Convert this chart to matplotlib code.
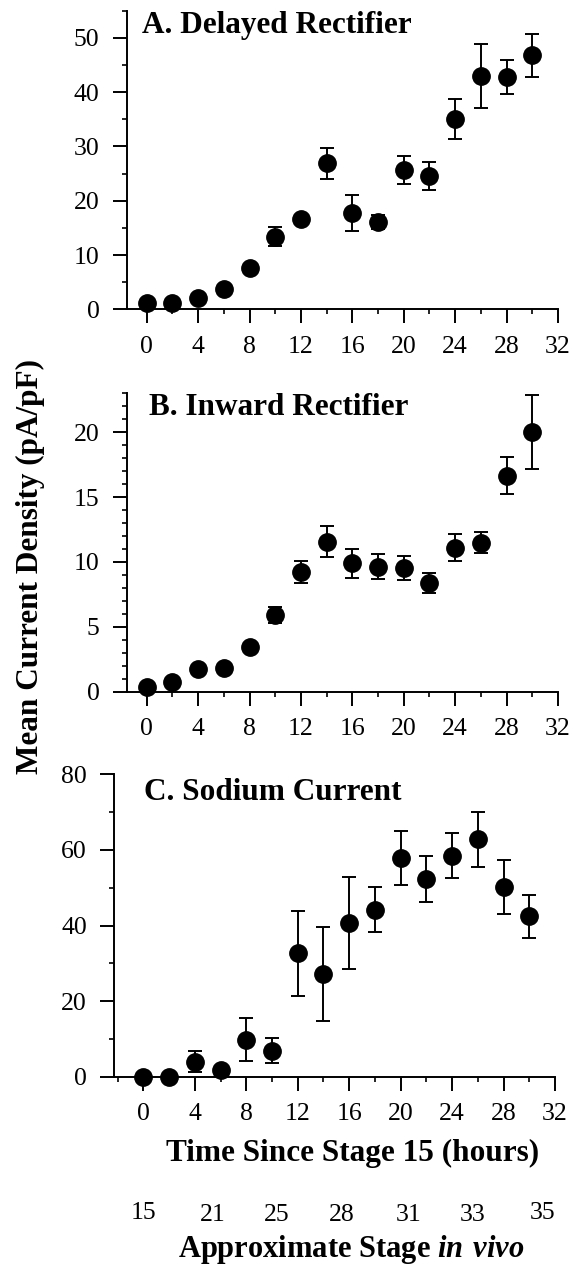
import matplotlib
matplotlib.use('Agg')
import matplotlib.pyplot as plt
from matplotlib.ticker import MultipleLocator

plt.rcParams['font.family'] = ['Liberation Serif', 'DejaVu Serif']
plt.rcParams['mathtext.fontset'] = 'custom'
plt.rcParams['mathtext.bfit'] = 'Liberation Serif:italic:bold'
plt.rcParams['mathtext.rm'] = 'Liberation Serif:bold'

# hours since stage 15
hours = [0, 2, 4, 6, 8, 10, 12, 14, 16, 18, 20, 22, 24, 26, 28, 30]

# A. delayed rectifier
delayed_mean = [1.1, 1.2, 2.0, 3.8, 7.6, 13.4, 16.6, 26.9, 17.7, 16.1, 25.6, 24.6, 35.0, 43.0, 42.8, 46.8]
delayed_err = [0, 0, 0, 0, 0, 1.8, 0.8, 2.9, 3.3, 1.3, 2.6, 2.6, 3.7, 5.9, 3.1, 4.0]

# B. inward rectifier
inward_mean = [0.33, 0.72, 1.77, 1.85, 3.47, 5.9, 9.25, 11.57, 9.9, 9.64, 9.51, 8.4, 11.1, 11.49, 16.66, 20.0]
inward_err = [0, 0, 0, 0, 0, 0.6, 0.85, 1.2, 1.1, 0.97, 0.93, 0.77, 1.05, 0.8, 1.45, 2.85]

# C. sodium current
sodium_mean = [0, 0, 4.0, 1.9, 9.8, 6.9, 32.6, 27.1, 40.6, 44.2, 57.8, 52.3, 58.5, 62.8, 50.1, 42.4]
sodium_err = [0, 0, 2.7, 0, 5.7, 3.3, 11.3, 12.4, 12.2, 6.0, 7.1, 6.0, 5.9, 7.3, 7.1, 5.7]

# approximate in vivo stages and where they sit on the hours axis
stage_labels = ['15', '21', '25', '28', '31', '33', '35']
stage_hours = [0, 5.4, 10.4, 15.4, 20.6, 25.6, 31.0]

panels = [
    ('A. Delayed Rectifier', delayed_mean, delayed_err, 55, 10, 5),
    ('B. Inward Rectifier', inward_mean, inward_err, 23, 5, 1),
    ('C. Sodium Current', sodium_mean, sodium_err, 80, 20, 10),
]

W, H = 575, 1266
fig = plt.figure(figsize=(W / 100, H / 100), dpi=100)


def px(x, y):
    return x / W, 1 - y / H


# pixel boxes (left, top, right, bottom) and x limit on the left for each panel
boxes = [(126.7, 10.7, 558, 309.3), (126.7, 393.3, 558, 691.7), (114, 774.3, 555, 1076.7)]
x_left = [-1.56, -1.56, -2.28]
title_px = [(141.7, 32.5), (148.9, 415), (144.5, 800)]

axes = []
for (title, mean, err, ytop, ymaj, ymin), box, xl, tp in zip(panels, boxes, x_left, title_px):
    l, t, r, b = box
    ax = fig.add_axes([l / W, 1 - b / H, (r - l) / W, (b - t) / H])
    ax.errorbar(hours, mean, yerr=err, fmt='o', color='black', ms=12.5,
                elinewidth=1.4, capsize=5.2, capthick=1.4, clip_on=False, zorder=3)
    ax.set_xlim(xl, 32)
    ax.set_ylim(0, ytop)
    ax.spines['top'].set_visible(False)
    ax.spines['right'].set_visible(False)
    ax.spines['left'].set_linewidth(1.4)
    ax.spines['bottom'].set_linewidth(1.4)
    ax.xaxis.set_major_locator(MultipleLocator(4))
    ax.xaxis.set_minor_locator(MultipleLocator(2))
    ax.yaxis.set_major_locator(MultipleLocator(ymaj))
    ax.yaxis.set_minor_locator(MultipleLocator(ymin))
    ax.tick_params(which='major', direction='out', length=10, width=1.4, labelsize=18.5)
    ax.tick_params(which='minor', direction='out', length=3.8, width=1.2)
    ax.tick_params(axis='x', which='major', pad=9)
    ax.tick_params(axis='y', which='major', pad=9.5)
    fig.text(*px(*tp), title, fontsize=22.5, fontweight='bold', va='baseline', ha='left')
    axes.append(ax)

# stage numbers under panel C (the outer two sit a little higher)
axC = axes[2]
for i, (h, s) in enumerate(zip(stage_hours, stage_labels)):
    xf = axC.transData.transform((h, 0))[0] / fig.dpi / fig.get_figwidth()
    yb = 1219 if i in (0, len(stage_labels) - 1) else 1221
    fig.text(xf, px(0, yb)[1], s, ha='center', va='baseline', fontsize=18.5)

fig.text(*px(353, 1161.5), 'Time Since Stage 15 (hours)', ha='center',
         va='baseline', fontsize=22.5, fontweight='bold')
fig.text(*px(351.5, 1257), r'Approximate Stage $\mathbfit{in\ vivo}$', ha='center',
         va='baseline', fontsize=22, fontweight='bold')
fig.text(*px(30, 566), 'Mean Current Density (pA/pF)', rotation=90,
         ha='center', va='center', fontsize=22.5, fontweight='bold')

fig.savefig('out.png', dpi=100)
